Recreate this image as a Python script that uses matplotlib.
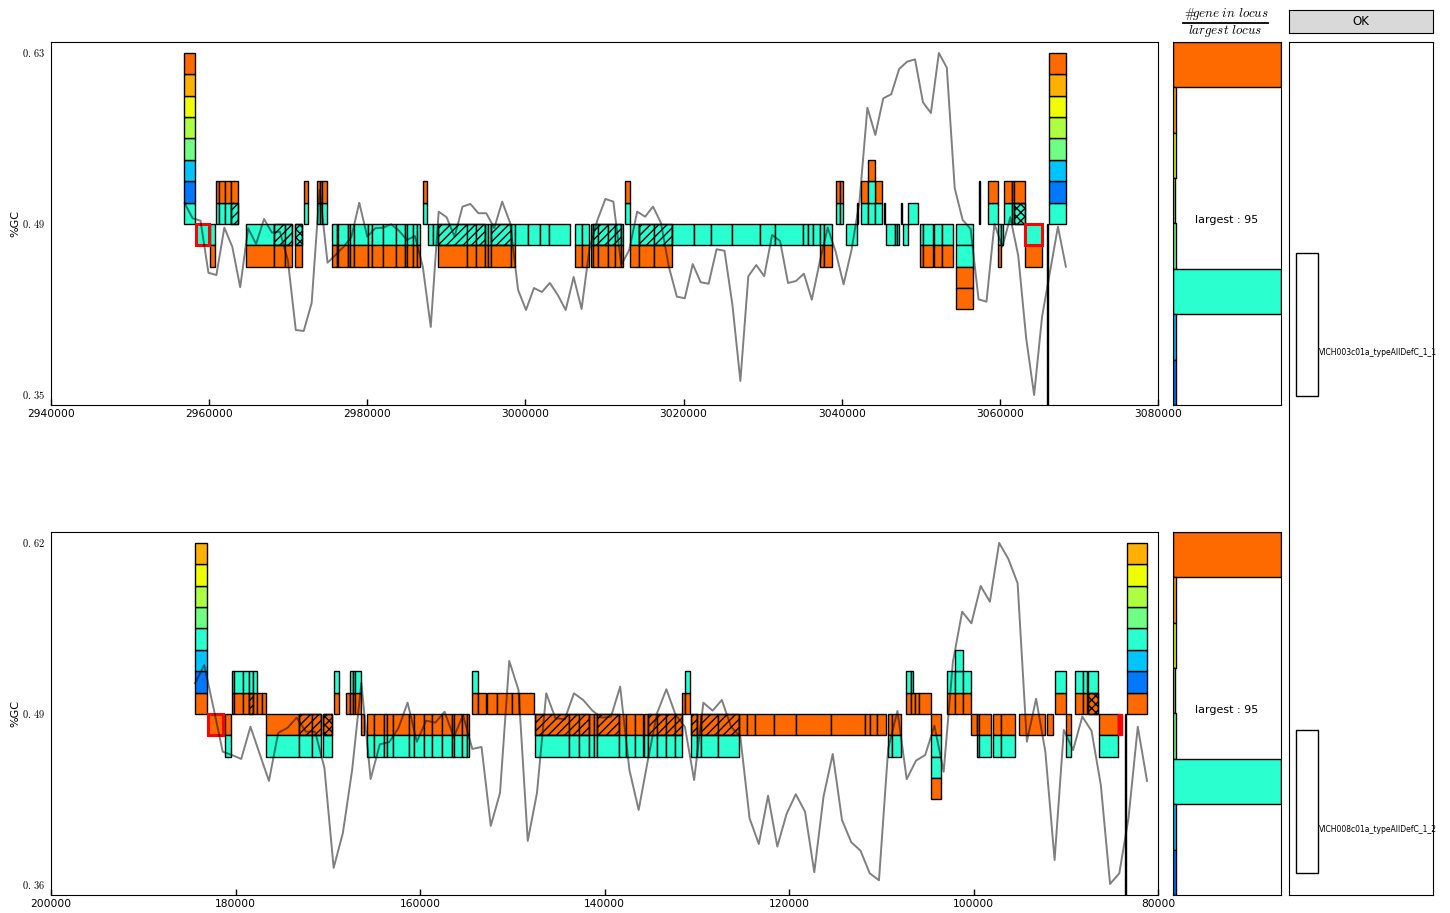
import numpy as np
import matplotlib
matplotlib.use("Agg")
import matplotlib.pyplot as plt
from matplotlib.lines import Line2D
from matplotlib.transforms import ScaledTranslation

plt.rcParams['mathtext.fontset'] = 'cm'
plt.rcParams['hatch.linewidth'] = 1.0

ORANGE, AMBER, YELLOW, LIME, GREEN, TURQ, CYAN, BLUE = (
    '#ff6a00', '#ffb000', '#f0ff00', '#adff42', '#6fff85', '#2affd0', '#00c4ff', '#0078ff')

# ---------- top contig: %GC curve ----------
top_gc = [.507,.4947,.4927,.4501,.4482,.487,.4714,.4382,.4865,.4736,.4941,.4829,.4837,.4605,.4032,.4024,
 .4253,.5178,.4583,.4646,.4712,.4794,.5074,.4796,.4865,.487,.4898,.4845,.4769,.4802,.455,.4057,.5001,.4955,
 .4796,.5042,.5064,.4988,.4988,.4867,.5083,.4908,.436,.4196,.4376,.4343,.4417,.4319,.4196,.4466,.4204,.4703,
 .4933,.5105,.5083,.4564,.4687,.5001,.496,.5042,.4908,.4548,.4305,.4292,.4572,.4423,.4411,.4693,.4681,.4237,
 .3615,.4472,.4564,.4472,.481,.4761,.4417,.4433,.4493,.428,.4591,.487,.4673,.4406,.4687,.5083,.5852,.5629,
 .5929,.5962,.6169,.6229,.6248,.5896,.5809,.63,.618,.5192,.4933,.4859,.4283,.4264,.49,.4714,.4955,.464,
 .3964,.35,.4141,.4509,.4878,.455]
top_gc_range_kb = (2956.9, 3068.35)

# gene boundaries (kb) per stacked row; row 0 sits just above the centre line
top_p0_turq = [[2960.87,2961.2,2962,2962.8,2963.65],[2972.0,2972.5],[2973.7,2974.0,2974.25,2974.9],[2987.0,2987.6],
 [3012.55,3013.2],[3039.3,3039.75,3040.1],[3041.9,3042.05],[3042.45,3043.3,3044.2,3045.05],[3045.3,3045.45],
 [3047.45,3047.65],[3048.4,3049.7],[3057.4,3057.55],[3058.55,3059.75],[3060.55,3061.5,3061.85,3063.15]]
top_p1_orange = [[2960.87,2961.2,2962,2962.8,2963.65],[2972.0,2972.5],[2973.7,2974.0,2974.25,2974.9],[2987.0,2987.6],
 [3012.55,3013.2],[3039.3,3039.75,3040.1],[3042.45,3043.3],[3044.2,3045.05],[3057.4,3057.55],[3058.55,3059.75],
 [3060.55,3061.5,3061.85,3063.15]]
top_p1_turq = [[3043.3,3044.2]]
top_p2_orange = [[3043.3,3044.2]]
top_m1_turq = [[2960.1,2960.75],[2964.6,2968.2,2969.6,2970.5],[2970.8,2971.8],
 [2975.57,2976.2,2976.33,2977.5,2977.85,2978.35,2980.1,2980.65,2982.0,2983.6,2984.8,2985.0,2985.8,2986.3,2986.7],
 [2987.7,2988.35,2988.9,2992.65,2993.7,2994.9,2995.3,2995.6,2998.15,2998.7,3000.35,3001.85,3003,3005.7],
 [3006.3,3007.2,3008.1],[3008.25,3008.6,3009.2,3010.4,3011.35,3012.05,3012.4],
 [3013.2,3014.4,3016.2,3018.5,3021.3,3023.45,3026.1,3029.7,3031.5,3035.15,3035.75,3036.35,3037.25,3037.7,3038.75],
 [3040.6,3041.9],[3045.64,3046.7,3046.95,3047.2],[3047.7,3048.4],[3049.9,3050.25,3051.5],[3051.7,3052.65,3054.1],
 [3054.5,3056.65],[3059.75,3060.1,3060.35]]
top_m2_orange = [[2960.1,2960.75],[2964.6,2968.2,2969.6,2970.5],[2970.8,2971.8],
 [2975.57,2976.2,2976.33,2977.5,2977.85,2978.35,2980.1,2980.65,2982.0,2983.6,2984.8,2985.0,2985.8,2986.3,2986.7],
 [2988.9,2992.65,2993.7,2994.9,2995.3,2995.6,2998.15,2998.7],[3006.3,3007.2,3008.1],
 [3008.25,3008.6,3009.2,3010.4,3011.35,3012.05,3012.4],[3013.2,3014.4,3016.2,3018.5],[3037.25,3037.7,3038.75],
 [3049.9,3050.25,3051.5],[3051.7,3052.65,3054.1],[3059.75,3060.1],[3063.2,3065.3]]
top_m2_turq = [[3054.5,3056.65]]
top_m3_orange = [[3054.5,3056.65]]
top_m4_orange = [[3054.5,3056.65]]
top_slash = [(-1,2968.2,2970.5),(-1,2988.9,2994.9),(-1,2995.6,2998.15),(-1,3008.6,3012.05),(-1,3014.4,3018.5),(0,2962.8,2963.65)]
top_cross = [(-1,2970.8,2971.8),(0,3061.85,3063.15)]
top_red = [(2958.3,2960.0),(3063.2,3065.3)]
top_stack_left = (2956.8, 2958.2)
top_stack_right = (3066.25, 3068.35)
top_stack_colors = [TURQ, BLUE, CYAN, GREEN, LIME, YELLOW, AMBER, ORANGE]
top_spike = (3066.0, 3066.1)
top_xticks = [2940000,2960000,2980000,3000000,3020000,3040000,3060000,3080000]

# ---------- bottom contig ----------
bot_gc = [.5133,.5272,.4946,.4613,.4588,.4558,.4803,.4596,.4391,.4756,.4794,.4872,.4765,.4765,.449,.373,.3996,
 .4474,.5136,.4406,.467,.4685,.4791,.4986,.4689,.4849,.4834,.4917,.4723,.4892,.4634,.4649,.4049,.43,.5303,.5082,
 .3935,.43,.5057,.4867,.486,.5057,.5006,.4925,.4872,.4879,.5107,.4474,.417,.455,.4908,.5088,.4892,.4803,.4398,
 .4986,.4925,.5006,.4803,.4727,.4107,.3912,.4279,.3892,.414,.429,.4157,.3697,.4272,.4596,.4094,.3925,.3861,.3689,
 .3636,.4639,.4923,.4404,.4545,.4588,.4811,.4461,.5297,.5677,.5589,.5873,.5753,.62,.6078,.5893,.4689,.5016,.4613,
 .379,.4778,.4626,.488,.4771,.436,.3608,.3689,.411,.4803,.4391]
bot_gc_range_kb = (184.39, 81.19)

bot_p0_orange = [[180.41,180.13,179.22,178.57,178.07,177.7,177.16,176.69],[169.29,168.75],[168.05,167.59,167.23,167.05,166.4],
 [154.33,153.68,152.88],[152.74,151.62,150.06,149.27,147.61],[131.57,131.27,130.7],[107.28,106.81,106.38,105.88,104.61],
 [102.84,101.97,101.1,100.3],[91.13,89.94],[89.03,88.1,87.73],[87.56,86.47]]
bot_p1_turq = [[180.41,180.13,179.22,178.57,178.07,177.7],[169.29,168.75],[167.59,167.23,167.05,166.4],[154.33,153.68],
 [131.27,130.7],[107.28,106.81,106.53],[102.84,101.97,101.1,100.3],[91.13,89.94],[89.03,88.1,87.73],[87.56,86.47]]
bot_p2_turq = [[101.97,101.1]]
bot_main = [165.71,164.99,163.9,163.55,162.89,161.16,160.62,159.57,158.73,157.65,156.56,156.31,155.48,154.94,154.66]
bot_m1_orange = [[181.17,180.49],[176.69,173.08,171.71,170.76],[170.55,169.54],[166.43,166.04],bot_main,
 [147.5,143.82,142.8,141.66,141.14,140.78,138.4,137.67,136.69,135.86],[135.69,135.25,134.34,133.33,132.39,131.57],
 [130.66,130,129.5,127.66,125.45,124.52,123.69,121.59,119.24,115.48,111.76,111.22,110.5,109.52],[109.23,108.86,107.89],
 [104.64,103.52],[100.3,99.66,99.37,98.1],[97.85,97.02,95.47],[95.07,92.28],[92.0,91.35],[89.94,89.47],[86.4,84.37]]
bot_m2_turq = [[181.17,180.49],[176.69,173.08,171.71,170.76],[170.55,169.54],bot_main,
 [147.5,143.82,142.8,141.66,141.14,140.78,138.4,137.67,136.69,135.86],[135.69,135.25,134.34,133.33,132.39,131.57],
 [130.66,130,129.5,127.66,125.45],[109.23,108.86,107.89],[104.64,103.52],[99.66,99.37,98.1],[97.85,97.02,95.47],
 [89.94,89.47],[86.4,84.37]]
bot_m3_turq = [[104.64,103.52]]
bot_m4_orange = [[104.64,103.52]]
bot_slash = [(0,178.57,178.07),(-1,173.08,170.76),(-1,147.5,141.66),(-1,140.78,138.4),(-1,135.25,131.57),(-1,130.66,130.0),(-1,129.5,125.45)]
bot_cross = [(-1,170.55,169.54),(0,87.56,86.47)]
bot_red = [(183.01,181.32)]
bot_red_sliver = (84.37,83.95)
bot_stack_left = (184.39,183.12)
bot_stack_right = (83.33,81.22)
bot_stack_colors = [ORANGE, BLUE, CYAN, TURQ, GREEN, LIME, YELLOW, AMBER]
bot_spike = (83.55, 83.45)
bot_xticks = [200000,180000,160000,140000,120000,100000,80000]

# side histogram: genes per colour class
side_counts = [95,3,3,2,3,95,3,3]
side_colors = [ORANGE, AMBER, YELLOW, LIME, GREEN, TURQ, CYAN, BLUE]
largest = 95
names = ['VICH003c01a_typeAllDefC_1_1','VICH008c01a_typeAllDefC_1_2']

W, H = 1450, 913
fig = plt.figure(figsize=(W/100, H/100), dpi=100)
def axpx(l, t, r, b):
    return fig.add_axes([l/W, 1-b/H, (r-l)/W, (b-t)/H])

def box(ax, a_kb, b_kb, h, bottom, **kw):
    ax.bar(a_kb*1000, h, width=(b_kb-a_kb)*1000, bottom=bottom, align='edge', **kw)

def blocks(ax, base, h, row, edge_lists, color):
    for e in edge_lists:
        for a, b in zip(e[:-1], e[1:]):
            box(ax, a, b, h, base+row*h, color=color, edgecolor='k', linewidth=1.0, zorder=2)

def overlay(ax, base, h, items, hatch):
    for row, a, b in items:
        box(ax, a, b, h, base+row*h, facecolor='none', edgecolor='k', linewidth=1.0, hatch=hatch, zorder=3)

def stack(ax, base, h, span, colors):
    a, b = span
    for i, c in enumerate(colors):
        box(ax, a, b, h, base+i*h, color=c, edgecolor='k', linewidth=1.0, zorder=2)

def spike(ax, base, h, span):
    a, b = span
    for r in range(1, 10):
        box(ax, a, b, h, base-r*h, color='k', edgecolor='k', linewidth=1.0, zorder=2)

def finish(ax, xlim, ylim, xticks, yticks, ylabels):
    ax.set_xlim(*xlim); ax.set_ylim(*ylim)
    ax.set_xticks(xticks); ax.set_xticklabels([str(t) for t in xticks], fontsize=7.7)
    ax.set_yticks(yticks); ax.set_yticklabels(ylabels, fontsize=7.5)
    ax.tick_params(axis='x', direction='in', length=4, width=1, pad=3)
    ax.tick_params(axis='y', length=0, pad=4)
    up = ScaledTranslation(0, 1/100, fig.dpi_scale_trans)
    for lab in ax.get_yticklabels():
        lab.set_transform(lab.get_transform() + up)
    ax.set_ylabel('%GC', fontsize=8)
    ax.yaxis.set_label_coords(-0.0275, 0.5)

LINE = dict(color='k', alpha=0.5, lw=1.4, zorder=5)
SLASH, CROSS = '////', 'xxxx'

# ---- top main axes
ax1 = axpx(51, 42, 1158, 405)
h1 = 0.0175
base1 = 0.49
for row, lst, col in [(0,top_p0_turq,TURQ),(1,top_p1_orange,ORANGE),(1,top_p1_turq,TURQ),(2,top_p2_orange,ORANGE),
                      (-1,top_m1_turq,TURQ),(-2,top_m2_orange,ORANGE),(-2,top_m2_turq,TURQ),(-3,top_m3_orange,ORANGE),(-4,top_m4_orange,ORANGE)]:
    blocks(ax1, base1, h1, row, lst, col)
overlay(ax1, base1, h1, top_slash, SLASH)
overlay(ax1, base1, h1, top_cross, CROSS)
stack(ax1, base1, h1, top_stack_left, top_stack_colors)
stack(ax1, base1, h1, top_stack_right, top_stack_colors)
spike(ax1, base1, h1, top_spike)
for a, b in top_red:
    box(ax1, a, b, h1, base1-h1, color=TURQ, edgecolor='#ff0000', linewidth=2.2, zorder=4)
ax1.plot(np.linspace(top_gc_range_kb[0], top_gc_range_kb[1], len(top_gc))*1000, top_gc, **LINE)
finish(ax1, (2940000, 3080000), (0.3418, 0.639), top_xticks, [0.35,0.49,0.63], [r'$0.\,35$', r'$0.\,49$', r'$0.\,63$'])

# ---- bottom main axes
ax2 = axpx(51, 532, 1158, 895)
h2 = 0.01625
base2 = 0.49
for row, lst, col in [(0,bot_p0_orange,ORANGE),(1,bot_p1_turq,TURQ),(2,bot_p2_turq,TURQ),(-1,bot_m1_orange,ORANGE),
                      (-2,bot_m2_turq,TURQ),(-3,bot_m3_turq,TURQ),(-4,bot_m4_orange,ORANGE)]:
    blocks(ax2, base2, h2, row, lst, col)
overlay(ax2, base2, h2, bot_slash, SLASH)
overlay(ax2, base2, h2, bot_cross, CROSS)
stack(ax2, base2, h2, bot_stack_left, bot_stack_colors)
stack(ax2, base2, h2, bot_stack_right, bot_stack_colors)
spike(ax2, base2, h2, bot_spike)
for a, b in bot_red:
    box(ax2, a, b, h2, base2-h2, color=ORANGE, edgecolor='#ff0000', linewidth=2.2, zorder=4)
a, b = bot_red_sliver
box(ax2, a, b, h2, base2-h2, color='#ff0000', edgecolor='#ff0000', linewidth=1.0, zorder=4)
ax2.plot(np.linspace(bot_gc_range_kb[0], bot_gc_range_kb[1], len(bot_gc))*1000, bot_gc, **LINE)
finish(ax2, (200000, 80000), (0.3524, 0.6283), bot_xticks, [0.36,0.49,0.62], [r'$0.\,36$', r'$0.\,49$', r'$0.\,62$'])

# ---- side histograms
for t, b in [(42, 405), (532, 895)]:
    ax = axpx(1173, t, 1281, b)
    ax.barh(np.arange(len(side_counts)), np.array(side_counts)/largest, height=1.0, color=side_colors, edgecolor='k', linewidth=1.0)
    ax.set_xlim(0, 1); ax.set_ylim(len(side_counts)-0.5, -0.5)
    ax.set_xticks([]); ax.set_yticks([])
    ax.text(0.5, 0.51, 'largest : %d' % largest, transform=ax.transAxes, ha='center', va='center', fontsize=8)

# ---- header fraction
fig.text(1184/W, 1-14/H, '#', family='cmr10', ha='left', va='center', fontsize=9)
fig.text(1192.5/W, 1-14/H, r'$gene\ in\ locus$', ha='left', va='center', fontsize=9.4)
fig.add_artist(Line2D([1183/W, 1268/W], [1-23/H, 1-23/H], color='k', lw=1.3, transform=fig.transFigure))
fig.text(1225/W, 1-31/H, r'$largest\ locus$', ha='center', va='center', fontsize=9.4)

# ---- OK button
axb = axpx(1289, 10, 1433, 33)
axb.set_facecolor('#d9d9d9'); axb.set_xticks([]); axb.set_yticks([])
axb.text(0.5, 0.5, 'OK', transform=axb.transAxes, ha='center', va='center', fontsize=8.5)

# ---- selection list
axl = axpx(1289, 42, 1433, 895)
axl.set_xlim(0, 144); axl.set_ylim(853, 0)
axl.set_xticks([]); axl.set_yticks([])
for top, name in zip([211, 688], names):
    axl.add_patch(plt.Rectangle((7, top), 22, 143, facecolor='white', edgecolor='k', linewidth=1.0))
    axl.text(30, top+99, name, fontsize=5.5, va='center', ha='left', clip_on=False)

fig.savefig('out.png', dpi=100)
